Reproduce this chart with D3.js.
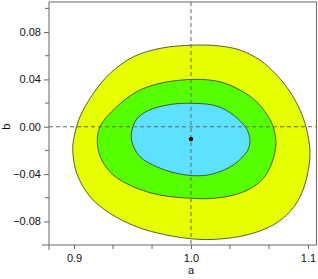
<!DOCTYPE html>
<html>
<head>
<meta charset="utf-8">
<script src="https://d3js.org/d3.v7.min.js"></script>
<style>
  body{ margin:0; background:#fff; }
  .tick-label{ font-family:"Liberation Sans", Arial, sans-serif; font-size:11px; fill:#111; }
</style>
</head>
<body>
<svg id="chart" width="318" height="279"></svg>
<script>
// contour outlines, [a, b], clockwise from the top
var outer = [[1.002,0.069],[1.0248,0.0682],[1.0419,0.0648],[1.059,0.0563],[1.0732,0.0437],[1.0846,0.0296],
  [1.0932,0.0141],[1.0983,0],[1.1017,-0.0197],[1.1003,-0.0366],[1.0946,-0.0563],[1.0846,-0.0718],
  [1.0703,-0.083],[1.0504,-0.0907],[1.0305,-0.0943],[1.0077,-0.0952],[0.9792,-0.0915],[0.9536,-0.0845],
  [0.9308,-0.0732],[0.9137,-0.0591],[0.9023,-0.0394],[0.8989,-0.0197],[0.9001,-0.0084],[0.9051,0.0084],
  [0.9165,0.0282],[0.9308,0.0451],[0.9507,0.0591],[0.9735,0.0662]];
var middle = [[1.002,0.04],[1.0248,0.038],[1.0419,0.031],[1.0562,0.0211],[1.0661,0.0084],[1.0703,0],
  [1.0726,-0.014],[1.069,-0.0309],[1.0618,-0.0436],[1.0504,-0.0524],[1.0362,-0.0577],[1.0191,-0.0605],
  [1.002,-0.0605],[0.9735,-0.0577],[0.9507,-0.0507],[0.9336,-0.0408],[0.9237,-0.0281],[0.9199,-0.014],
  [0.9222,0],[0.9365,0.0169],[0.9536,0.0296],[0.9735,0.0367]];
var inner = [[1.002,0.0198],[1.022,0.0175],[1.0362,0.0099],[1.047,-0.001],[1.0503,-0.01],[1.049,-0.019],
  [1.043,-0.0265],[1.035,-0.033],[1.022,-0.0389],[1.0077,-0.0414],[0.9878,-0.0394],[0.9707,-0.0338],
  [0.9564,-0.0253],[0.9493,-0.012],[0.9498,-0.002],[0.9536,0.0065],[0.963,0.0135],[0.9821,0.0188]];
var best = [1.0, -0.0104];
var refA = 1.0, refB = 0.0;

var xMajor = [0.9, 1.0, 1.1];
var xMinor = [0.9333, 0.9667, 1.0333, 1.0667];
var yMajor = [-0.08, -0.04, 0.00, 0.04, 0.08];
var yMinor = [-0.06, -0.02, 0.02, 0.06, 0.10];

var regions = [
  {pts: outer,  fill: "#e5ff00"},
  {pts: middle, fill: "#55ff00"},
  {pts: inner,  fill: "#5ce1ff"}
];

var pLeft = 49, pRight = 316.5, pTop = 2, pBottom = 245;
var x = d3.scaleLinear().domain([0.8786, 1.1073]).range([pLeft, pRight]);
var y = d3.scaleLinear().domain([-0.0999, 0.1054]).range([pBottom, pTop]);

var svg = d3.select("#chart");

var line = d3.line()
  .x(function(d){ return x(d[0]); })
  .y(function(d){ return y(d[1]); })
  .curve(d3.curveCatmullRomClosed.alpha(0.5));

svg.selectAll(".region")
  .data(regions)
  .enter()
  .append("path")
  .attr("class","region")
  .attr("d", function(d){ return line(d.pts); })
  .attr("fill", function(d){ return d.fill; })
  .attr("stroke", "#333")
  .attr("stroke-width", 0.8);

// dashed reference lines
svg.append("line")
  .attr("x1", pLeft).attr("x2", pRight)
  .attr("y1", y(refB)).attr("y2", y(refB))
  .attr("stroke","#666").attr("stroke-width",1).attr("stroke-dasharray","4,3");
svg.append("line")
  .attr("x1", x(refA)).attr("x2", x(refA))
  .attr("y1", pTop).attr("y2", pBottom)
  .attr("stroke","#666").attr("stroke-width",1).attr("stroke-dasharray","4,3");

svg.append("circle")
  .attr("cx", x(best[0])).attr("cy", y(best[1]))
  .attr("r", 2.2).attr("fill","#000");

// frame
svg.append("path")
  .attr("d", "M" + pLeft + "," + pTop + "H" + pRight + "V" + pBottom)
  .attr("fill","none").attr("stroke","#666").attr("stroke-width",1);

// x axis
var xAxis = d3.axisBottom(x).tickValues(xMajor).tickSize(4).tickPadding(5)
  .tickFormat(d3.format(".1f"));
var gx = svg.append("g").attr("transform","translate(0," + pBottom + ")").call(xAxis);
gx.select(".domain").remove();
gx.append("line").attr("x1", 42).attr("x2", pRight).attr("stroke","#666");
gx.selectAll(".tick line").attr("stroke","#666");
gx.selectAll(".tick text").attr("class","tick-label");
gx.selectAll(".minor")
  .data(xMinor).enter().append("line")
  .attr("x1", function(d){ return x(d); }).attr("x2", function(d){ return x(d); })
  .attr("y1", 0).attr("y2", 4).attr("stroke","#666");

// y axis
var yAxis = d3.axisLeft(y).tickValues(yMajor).tickSize(5).tickPadding(3)
  .tickFormat(function(d){ return d3.format(".2f")(d).replace("-", "\u2212"); });
var gy = svg.append("g").attr("transform","translate(" + pLeft + ",0)").call(yAxis);
gy.select(".domain").remove();
gy.append("line").attr("y1", pTop).attr("y2", 250).attr("stroke","#666");
gy.selectAll(".tick line").attr("stroke","#666");
gy.selectAll(".tick text").attr("class","tick-label");
gy.selectAll(".minor")
  .data(yMinor).enter().append("line")
  .attr("y1", function(d){ return y(d); }).attr("y2", function(d){ return y(d); })
  .attr("x1", 0).attr("x2", -4).attr("stroke","#666");

// axis titles
svg.append("text").attr("class","tick-label")
  .attr("x", x(1.0)).attr("y", 274).attr("text-anchor","middle").text("a");
svg.append("text").attr("class","tick-label")
  .attr("transform","translate(10," + y(0) + ") rotate(-90)")
  .attr("text-anchor","middle").text("b");
</script>
</body>
</html>
